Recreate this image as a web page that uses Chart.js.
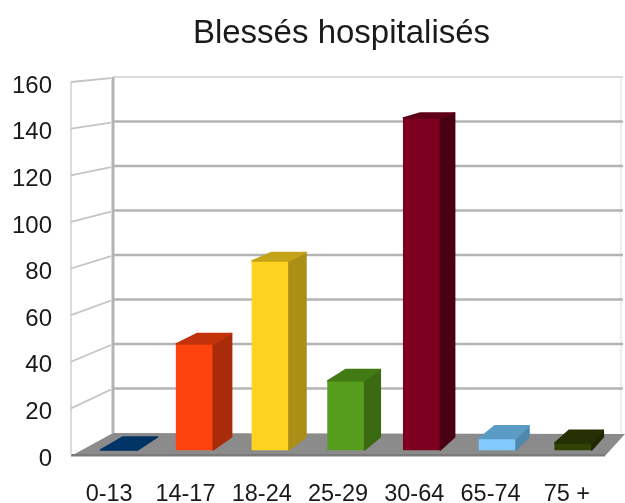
<!DOCTYPE html>
<html><head><meta charset="utf-8">
<style>html,body{margin:0;padding:0;background:#fff}#w{width:625px;height:503px}canvas{filter:blur(0.5px)}</style>
<script src="https://cdn.jsdelivr.net/npm/chart.js@4/dist/chart.umd.min.js"></script>
</head><body><div id="w"><canvas id="c" width="625" height="503"></canvas></div>
<script>
const chartTitle = "Blessés hospitalisés";
const categories = ["0-13","14-17","18-24","25-29","30-64","65-74","75 +"];
const injured = [0,46,82,30,144,5,3];
const yTicks = [0,20,40,60,80,100,120,140,160];
const frontColors = ["#004586","#ff420e","#ffd320","#579d1c","#7e0021","#83caff","#314004"];
const sideColors = ["#002a52","#a82c0a","#ab8e16","#3a6a12","#4a0013","#4f87ad","#1f2902"];
const topColors = ["#003466","#c2320b","#c4a318","#427a15","#5e0018","#5b9cc6","#242f03"];
const FONT = "'Liberation Sans', Arial, sans-serif";
const LABEL_DROP = 4;

const wall3d = {
  id:'wall3d',
  afterLayout(chart){ if(chart.titleBlock){chart.titleBlock.left+=3.5;chart.titleBlock.right+=3.5;} },
  beforeDatasetsDraw(chart){
    const c=chart.ctx, sy=chart.scales.y, a=chart.chartArea;
    const backL=113, backR=623, backBottom=433, ratio=355/372;
    const front=v=>sy.getPixelForValue(v)-LABEL_DROP;
    const backY=p=>backBottom-(a.bottom-p)*ratio;
    c.save();
    c.fillStyle='#8b8b8b';
    c.beginPath();c.moveTo(a.left,a.bottom+1);c.lineTo(a.right,a.bottom+1);c.lineTo(625,backBottom+1);c.lineTo(backL,backBottom);c.closePath();c.fill();
    c.fillStyle='#7a7a7a';c.fillRect(a.left,a.bottom-1,a.right-a.left,2.5);
    c.strokeStyle='#d4d4d4';c.lineWidth=1.6;
    c.beginPath();c.moveTo(a.left,front(160));c.lineTo(a.left,a.bottom);c.stroke();
    c.strokeStyle='#e2e2e2';c.lineWidth=1.2;
    c.beginPath();c.moveTo(backR-2,backY(front(160)));c.lineTo(backR-2,backBottom);c.stroke();
    yTicks.forEach(v=>{
      if(v===0) return;
      const p=front(v), b=backY(p);
      c.strokeStyle=v===160?'#cfcfcf':'#b4b4b4';c.lineWidth=v===160?1.6:2.4;
      c.beginPath();c.moveTo(backL,b);c.lineTo(backR,b);c.stroke();
      c.strokeStyle='#c4c4c4';c.lineWidth=1.8;
      c.beginPath();c.moveTo(a.left,p);c.lineTo(backL-2,b+1);c.stroke();
    });
    c.strokeStyle='#b4b4b4';c.lineWidth=3;
    c.beginPath();c.moveTo(backL,backY(front(160)));c.lineTo(backL,backBottom);c.stroke();
    c.restore();
  },
  afterDatasetsDraw(chart){
    const c=chart.ctx, meta=chart.getDatasetMeta(0);
    const dxAt=x=>21-0.018*(x-71);
    const backYOf=(y,base)=>base-13-(base-y)*0.976;
    c.save();c.lineJoin='round';c.lineWidth=1.5;
    meta.data.forEach((el,i)=>{
      const {x,y,base,width}=el.getProps(['x','y','base','width'],true);
      const l=x-width/2,r=x+width/2;
      const bl=l+dxAt(l)+2,br=r+dxAt(r);
      const ty=backYOf(y,base),by=base-13;
      c.fillStyle=c.strokeStyle=sideColors[i];
      c.beginPath();c.moveTo(r,y);c.lineTo(br,ty);c.lineTo(br,by);c.lineTo(r,base);c.closePath();c.fill();c.stroke();
      c.fillStyle=c.strokeStyle=topColors[i];
      c.beginPath();c.moveTo(l,y);c.lineTo(r,y);c.lineTo(br,ty);c.lineTo(bl,ty);c.closePath();c.fill();c.stroke();
    });
    c.restore();
  }
};

new Chart(document.getElementById('c'),{
  type:'bar',
  data:{labels:categories,datasets:[{
    label:chartTitle,
    data:injured.map((v,i)=>({x:i,y:v})),
    backgroundColor:frontColors,
    xAxisID:'xB',yAxisID:'yB',
    barThickness:37
  }]},
  options:{
    responsive:false,animation:false,
    layout:{padding:{left:0,right:20,top:0,bottom:0}},
    plugins:{
      legend:{display:false},tooltip:{enabled:false},
      title:{display:true,text:chartTitle,fullSize:false,color:'#1a1a1a',
        font:{family:FONT,size:33,weight:'normal'},padding:{top:14,bottom:28.4}}
    },
    scales:{
      x:{type:'category',labels:categories,offset:true,
        grid:{display:false},border:{display:false},
        ticks:{color:'#1a1a1a',font:{family:FONT,size:23.5},padding:17,maxRotation:0,autoSkip:false},
        afterFit(s){s.height=48;}},
      y:{type:'linear',position:'left',min:1.72,max:161.72,
        grid:{display:false},border:{display:false},
        ticks:{color:'#1a1a1a',font:{family:FONT,size:24},padding:11},
        afterBuildTicks(s){s.ticks=yTicks.map(v=>({value:v}));},
        afterFit(s){s.width=71;}},
      xB:{type:'linear',display:false,offset:false,min:-0.634,max:6.42},
      yB:{type:'linear',display:false,min:-2.17,max:159.6}
    }
  },
  plugins:[wall3d]
});
</script></body></html>
